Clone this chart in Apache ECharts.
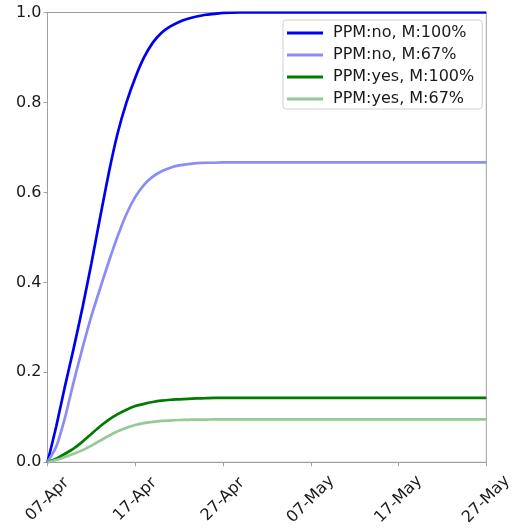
<!DOCTYPE html>
<html>
<head>
    <meta charset="utf-8">
    <script src="https://cdn.jsdelivr.net/npm/echarts@6/dist/echarts.min.js"></script>
    <style>
        body { margin: 0; background: #fff; }
        #chart { width: 515px; height: 528px; }
    </style>
</head>
<body>
    <div id="chart"></div>
    <script>
        // days after 07-Apr
        var days = [0, 1, 2, 3, 4, 5, 6, 7, 8, 9, 10, 11, 12, 13, 14, 15, 16, 17, 18, 19, 20, 22, 25, 30, 40, 50];
        var tickLabels = ['07-Apr', '17-Apr', '27-Apr', '07-May', '17-May', '27-May'];

        var noFull = [0, 0.08, 0.17, 0.255, 0.345, 0.442, 0.545, 0.645, 0.732, 0.80, 0.855, 0.90, 0.933, 0.955, 0.969, 0.979, 0.986, 0.991, 0.995, 0.997, 0.999, 1.0, 1.0, 1.0, 1.0, 1.0];
        var no67 = [0, 0.035, 0.1, 0.18, 0.255, 0.325, 0.387, 0.447, 0.503, 0.552, 0.59, 0.617, 0.635, 0.647, 0.655, 0.66, 0.663, 0.665, 0.666, 0.666, 0.667, 0.667, 0.667, 0.667, 0.667, 0.667];
        var yesFull = [0, 0.008, 0.019, 0.031, 0.046, 0.063, 0.08, 0.095, 0.107, 0.117, 0.125, 0.130, 0.134, 0.137, 0.139, 0.140, 0.141, 0.142, 0.1425, 0.143, 0.143, 0.143, 0.143, 0.143, 0.143, 0.143];
        var yes67 = [0, 0.005, 0.012, 0.019, 0.027, 0.037, 0.048, 0.059, 0.069, 0.077, 0.083, 0.087, 0.090, 0.092, 0.093, 0.094, 0.0945, 0.095, 0.095, 0.0953, 0.0953, 0.0953, 0.0953, 0.0953, 0.0953, 0.0953];

        function pairs(vals) {
            return days.map(function (d, i) { return [d, vals[i]]; });
        }

        function line(name, vals, color) {
            return {
                name: name,
                type: 'line',
                data: pairs(vals),
                showSymbol: false,
                smooth: 0.2,
                lineStyle: { color: color, width: 2.7 },
                itemStyle: { color: color }
            };
        }

        var chart = echarts.init(document.getElementById('chart'));
        var font = 'DejaVu Sans';
        chart.setOption({
            animation: false,
            grid: {
                left: 47.5, right: 25.5, top: 12.5, bottom: 62.5,
                show: true, borderColor: '#a0a0a0', borderWidth: 1, containLabel: false
            },
            legend: {
                orient: 'vertical',
                left: 283, top: 20,
                padding: [5, 8, 2, 4],
                itemWidth: 36, itemHeight: 3, itemGap: 6,
                icon: 'rect',
                borderColor: '#d0d0d0', borderWidth: 1, borderRadius: 3,
                backgroundColor: 'rgba(255,255,255,0.8)',
                textStyle: { fontFamily: font, fontSize: 16, color: '#1a1a1a', lineHeight: 16, padding: [0, 0, 0, 5] },
                data: ['PPM:no, M:100%', 'PPM:no, M:67%', 'PPM:yes, M:100%', 'PPM:yes, M:67%']
            },
            xAxis: {
                type: 'value',
                min: 0, max: 50, interval: 10,
                splitLine: { show: false },
                axisLine: { lineStyle: { color: '#a0a0a0' } },
                axisTick: { show: true, length: 4, lineStyle: { color: '#a0a0a0' } },
                axisLabel: {
                    rotate: 45,
                    align: 'center',
                    verticalAlign: 'middle',
                    margin: 37,
                    fontFamily: font, fontSize: 16, color: '#1a1a1a',
                    formatter: function (v) { return tickLabels[Math.round(v / 10)]; }
                }
            },
            yAxis: {
                type: 'value',
                min: 0, max: 1, interval: 0.2,
                splitLine: { show: false },
                axisLine: { show: true, lineStyle: { color: '#a0a0a0' } },
                axisTick: { show: true, length: 4, lineStyle: { color: '#a0a0a0' } },
                axisLabel: {
                    margin: 6,
                    fontFamily: font, fontSize: 16, color: '#1a1a1a',
                    formatter: function (v) { return v.toFixed(1); }
                }
            },
            series: [
                line('PPM:no, M:100%', noFull, '#0000f0'),
                line('PPM:no, M:67%', no67, '#8c8cf5'),
                line('PPM:yes, M:100%', yesFull, '#007a00'),
                line('PPM:yes, M:67%', yes67, '#95c995')
            ]
        });
    </script>
</body>
</html>
